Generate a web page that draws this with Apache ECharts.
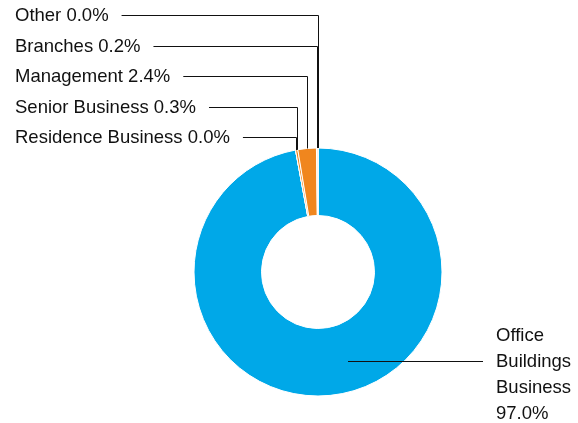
<!DOCTYPE html>
<html>
<head>
<meta charset="utf-8">
<script src="https://cdn.jsdelivr.net/npm/echarts@6/dist/echarts.min.js"></script>
<style>
html,body{margin:0;padding:0;background:#fff;}
#chart{width:578px;height:423px;}
</style>
</head>
<body>
<div id="chart"></div>
<script>
// Data
var categories = ['Office Buildings Business', 'Residence Business', 'Senior Business', 'Management', 'Branches', 'Other'];
var shares = [97.0, 0.0, 0.3, 2.4, 0.2, 0.0];
var sliceColors = ['#00A8E8', '#F0861E', '#F0861E', '#F0861E', '#F0861E', '#F0861E'];

// Layout constants
var CX = 318, CY = 272, R_IN = 56.5, R_OUT = 124;
var LEFT_X = 15, TOP_Y = 15, ROW_H = 30.5;

var chart = echarts.init(document.getElementById('chart'), null, {renderer: 'canvas'});

var baseData = categories.map(function (c, i) {
  return {name: c, value: shares[i], itemStyle: {color: sliceColors[i]}};
});
var labelData = categories.map(function (c, i) {
  return {name: c, value: shares[i]};
});

var common = {
  type: 'pie',
  center: [CX, CY],
  radius: [R_IN, R_OUT],
  startAngle: 90,
  clockwise: true,
  avoidLabelOverlap: false,
  stillShowZeroSum: true,
  emphasis: {disabled: true},
  silent: true
};

function crisp(v) { return Math.round(v) + 0.5; }

chart.setOption({
  animation: false,
  series: [
    Object.assign({}, common, {
      z: 1,
      itemStyle: {borderColor: '#fff', borderWidth: 1},
      label: {show: false},
      labelLine: {show: false},
      data: baseData
    }),
    Object.assign({}, common, {
      z: 5,
      itemStyle: {color: 'rgba(0,0,0,0)', borderWidth: 0},
      label: {
        show: true,
        color: '#111',
        fontFamily: 'Liberation Sans, Arial, Helvetica, sans-serif',
        fontSize: 18.5,
        lineHeight: 26,
        formatter: function (p) {
          var txt = p.value.toFixed(1) + '%';
          if (p.dataIndex === 0) {
            return p.name.split(' ').join('\n') + '\n' + txt;
          }
          return p.name + ' ' + txt;
        }
      },
      labelLine: {
        show: true,
        length: 10,
        length2: 10,
        lineStyle: {color: '#111', width: 1}
      },
      labelLayout: function (params) {
        var i = params.dataIndex;
        var pts = params.labelLinePoints;
        var w = params.labelRect.width;
        if (i === 0) {
          var ly = crisp(361);
          return {
            x: 496, y: 323, align: 'left', verticalAlign: 'top',
            labelLinePoints: [[CX + 30, ly], [CX + 30, ly], [483, ly]]
          };
        }
        var k = categories.length - 1 - i;
        var y = TOP_Y + k * ROW_H;
        var cy = crisp(y);
        var ex = crisp(pts ? pts[0][0] : CX);
        var ey = pts ? pts[0][1] : CY - R_OUT;
        return {
          x: LEFT_X, y: y + 1, align: 'left', verticalAlign: 'middle',
          labelLinePoints: [[ex, ey], [ex, cy], [LEFT_X + w + 13, cy]]
        };
      },
      data: labelData
    })
  ]
});
</script>
</body>
</html>
